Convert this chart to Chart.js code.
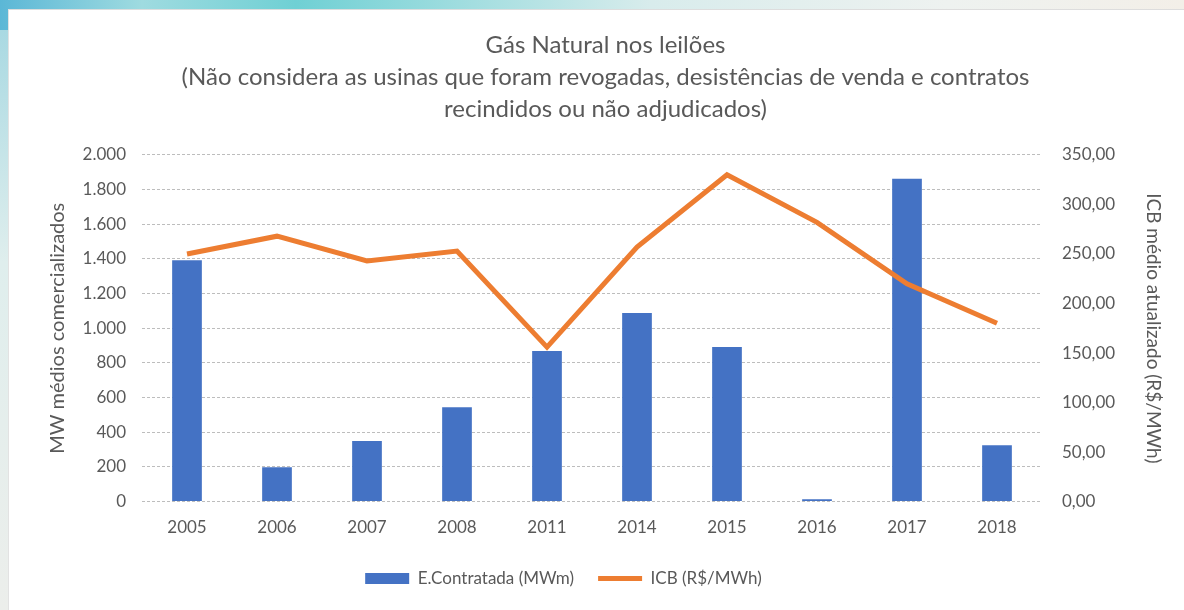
<!DOCTYPE html>
<html>
<head>
<meta charset="utf-8">
<script src="https://cdn.jsdelivr.net/npm/chart.js@4"></script>
<style>
  html, body { margin: 0; padding: 0; }
  body {
    width: 1184px; height: 610px; overflow: hidden; position: relative;
    background: linear-gradient(90deg, #5bb7d6 0%, #9fdbe0 12%, #6fd0d4 25%, #d8ecec 55%, #eef2f0 80%, #f3efe8 100%);
  }
  #leftstrip {
    position: absolute; left: 0; top: 30px; width: 8px; height: 580px;
    background: linear-gradient(180deg, #a9d9e2 0%, #dfeeed 40%, #eceeeb 100%);
  }
  #panel {
    position: absolute; left: 8px; top: 9px; width: 1176px; height: 601px;
    background: #fff; border-top: 1px solid #ddd; border-left: 1px solid #e2e2e2;
  }
  #wrap { position: absolute; left: 0; top: 0; width: 1184px; height: 610px; }
</style>
</head>
<body>
<div id="leftstrip"></div>
<div id="panel"></div>
<div id="wrap"><canvas id="gasChart"></canvas></div>
<script>
const years = ['2005', '2006', '2007', '2008', '2011', '2014', '2015', '2016', '2017', '2018'];
const energiaContratada = [1393, 198, 349, 545, 869, 1088, 892, 14, 1863, 325];
const icbMedio = [250, 268, 243, 253, 156, 257, 330, 282, 220, 180];
const titleLines = [
    'Gás Natural nos leilões',
    '(Não considera as usinas que foram revogadas, desistências de venda e contratos',
    'recindidos ou não adjudicados)'
];

const textColor = '#595959';
const fontFamily = 'Lato, "Open Sans", sans-serif';

// the legend in the original sits a bit left of the centre
const legendShift = {
    id: 'legendShift',
    afterLayout(chart) {
        chart.legend.left -= 42;
        chart.legend.right -= 42;
    }
};

const ctx = document.getElementById('gasChart').getContext('2d');
const myChart = new Chart(ctx, {
    data: {
        labels: years,
        datasets: [{
            type: 'bar',
            label: 'E.Contratada (MWm)',
            data: energiaContratada,
            yAxisID: 'y',
            backgroundColor: '#4472c4',
            borderColor: '#4472c4',
            categoryPercentage: 1,
            barPercentage: 0.33,
            pointStyle: 'rect',
            order: 1
        }, {
            type: 'line',
            label: 'ICB (R$/MWh)',
            data: icbMedio,
            yAxisID: 'y1',
            borderColor: '#ed7d31',
            backgroundColor: '#ed7d31',
            borderWidth: 5,
            pointRadius: 0,
            pointStyle: 'line',
            tension: 0,
            order: 0
        }]
    },
    options: {
        responsive: true,
        maintainAspectRatio: false,
        animation: false,
        layout: { padding: { top: 29, left: 42, right: 15, bottom: 13 } },
        scales: {
            x: {
                grid: { display: false },
                border: { display: false },
                ticks: { color: textColor, font: { family: fontFamily, size: 17 }, padding: 8 }
            },
            y: {
                position: 'left',
                min: 0, max: 2000,
                grid: { color: '#bdbdbd', lineWidth: 1, drawTicks: false },
                border: { display: false, dash: [3, 2] },
                ticks: {
                    stepSize: 200,
                    color: textColor,
                    font: { family: fontFamily, size: 17 },
                    padding: 16,
                    callback: v => v.toLocaleString('pt-BR')
                },
                title: {
                    display: true,
                    text: 'MW médios comercializados',
                    color: textColor,
                    font: { family: fontFamily, size: 20 }
                },
                afterFit: scale => { scale.width = 100; }
            },
            y1: {
                position: 'right',
                min: 0, max: 350,
                grid: { display: false, drawTicks: false },
                border: { display: false },
                ticks: {
                    stepSize: 50,
                    color: textColor,
                    font: { family: fontFamily, size: 17 },
                    padding: 20,
                    callback: v => v.toLocaleString('pt-BR', { minimumFractionDigits: 2, maximumFractionDigits: 2 })
                },
                title: {
                    display: true,
                    text: 'ICB médio atualizado (R$/MWh)',
                    color: textColor,
                    font: { family: fontFamily, size: 19 }
                },
                afterFit: scale => { scale.width = 127; }
            }
        },
        plugins: {
            title: {
                display: true,
                text: titleLines,
                color: textColor,
                font: { family: fontFamily, size: 24, weight: 'normal', lineHeight: 1.333 },
                padding: { top: 0, bottom: 30 }
            },
            legend: {
                position: 'bottom',
                reverse: true,
                labels: {
                    color: textColor,
                    font: { family: fontFamily, size: 17 },
                    usePointStyle: true,
                    pointStyleWidth: 44,
                    boxHeight: 11,
                    padding: 24
                }
            },
            tooltip: { enabled: false }
        }
    },
    plugins: [legendShift]
});
</script>
</body>
</html>
